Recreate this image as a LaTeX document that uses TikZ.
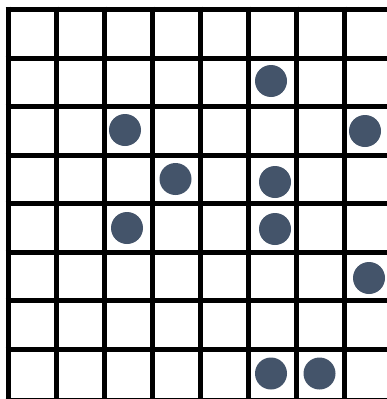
\documentclass[tikz,border=0pt]{standalone}
\definecolor{dot}{HTML}{44546A}
\tikzset{gridline/.style={line width=5pt,black},
  piece/.style={circle,fill=dot,inner sep=0pt,minimum size=32pt}}
\begin{document}
\begin{tikzpicture}[x=1pt,y=-1pt]
\fill[white] (0,0) rectangle (387,399);
\useasboundingbox (0,0) rectangle (387,399);
\foreach \i in {0,...,7} {
  \draw[gridline] (8+48*\i,6.5) -- (8+48*\i,402);
}
\foreach \j in {0,...,7} {
  \draw[gridline] (5.5,9.5+48.5*\j) -- (390,9.5+48.5*\j);
}
\draw[gridline] (5.5,400) -- (390,400);
\node[piece] (p1) at (271,81) {};
\node[piece] (p2) at (125,130) {};
\node[piece] (p3) at (365,131) {};
\node[piece] (p4) at (175.5,179) {};
\node[piece] (p5) at (275,182) {};
\node[piece] (p6) at (127,228) {};
\node[piece] (p7) at (275,229) {};
\node[piece] (p8) at (369,278) {};
\node[piece] (p9) at (271,373.5) {};
\node[piece] (p10) at (319.5,373.5) {};
\end{tikzpicture}
\end{document}
